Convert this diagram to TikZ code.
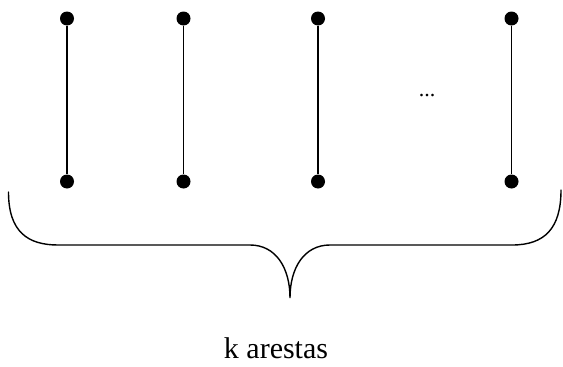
\documentclass[tikz,border=0pt]{standalone}
\usepackage{fontspec}
\setmainfont{Liberation Serif}
\begin{document}
\begin{tikzpicture}[x=1pt,y=-1pt,
  vert/.style={circle,fill=black,inner sep=0pt,minimum size=14pt},
  edge/.style={line width=1.4pt},
  brace/.style={line width=1.4pt,line cap=round}]
\useasboundingbox (0,0) rectangle (563,367);
\foreach \i/\x in {1/67,2/183.5,3/318,4/511.5}{
  \node[vert] (t\i) at (\x,18.5) {};
  \node[vert] (b\i) at (\x,181.5) {};
  \draw[edge] (t\i) -- (b\i);
}
\node[font=\fontsize{22}{24}\selectfont,anchor=base,inner sep=0pt] (dots) at (427,96) {...};
\draw[brace] (8.5,192) .. controls (8.5,232) and (28,245) .. (58,245)
  -- (250,245) .. controls (276,245) and (290,268) .. (290,298)
  .. controls (290,268) and (304,245) .. (330,245)
  -- (512,245) .. controls (545,245) and (561,228) .. (561,190);
\node[font=\fontsize{30}{33}\selectfont,anchor=base,inner sep=0pt] (lab) at (276,358) {k arestas};
\end{tikzpicture}
\end{document}
